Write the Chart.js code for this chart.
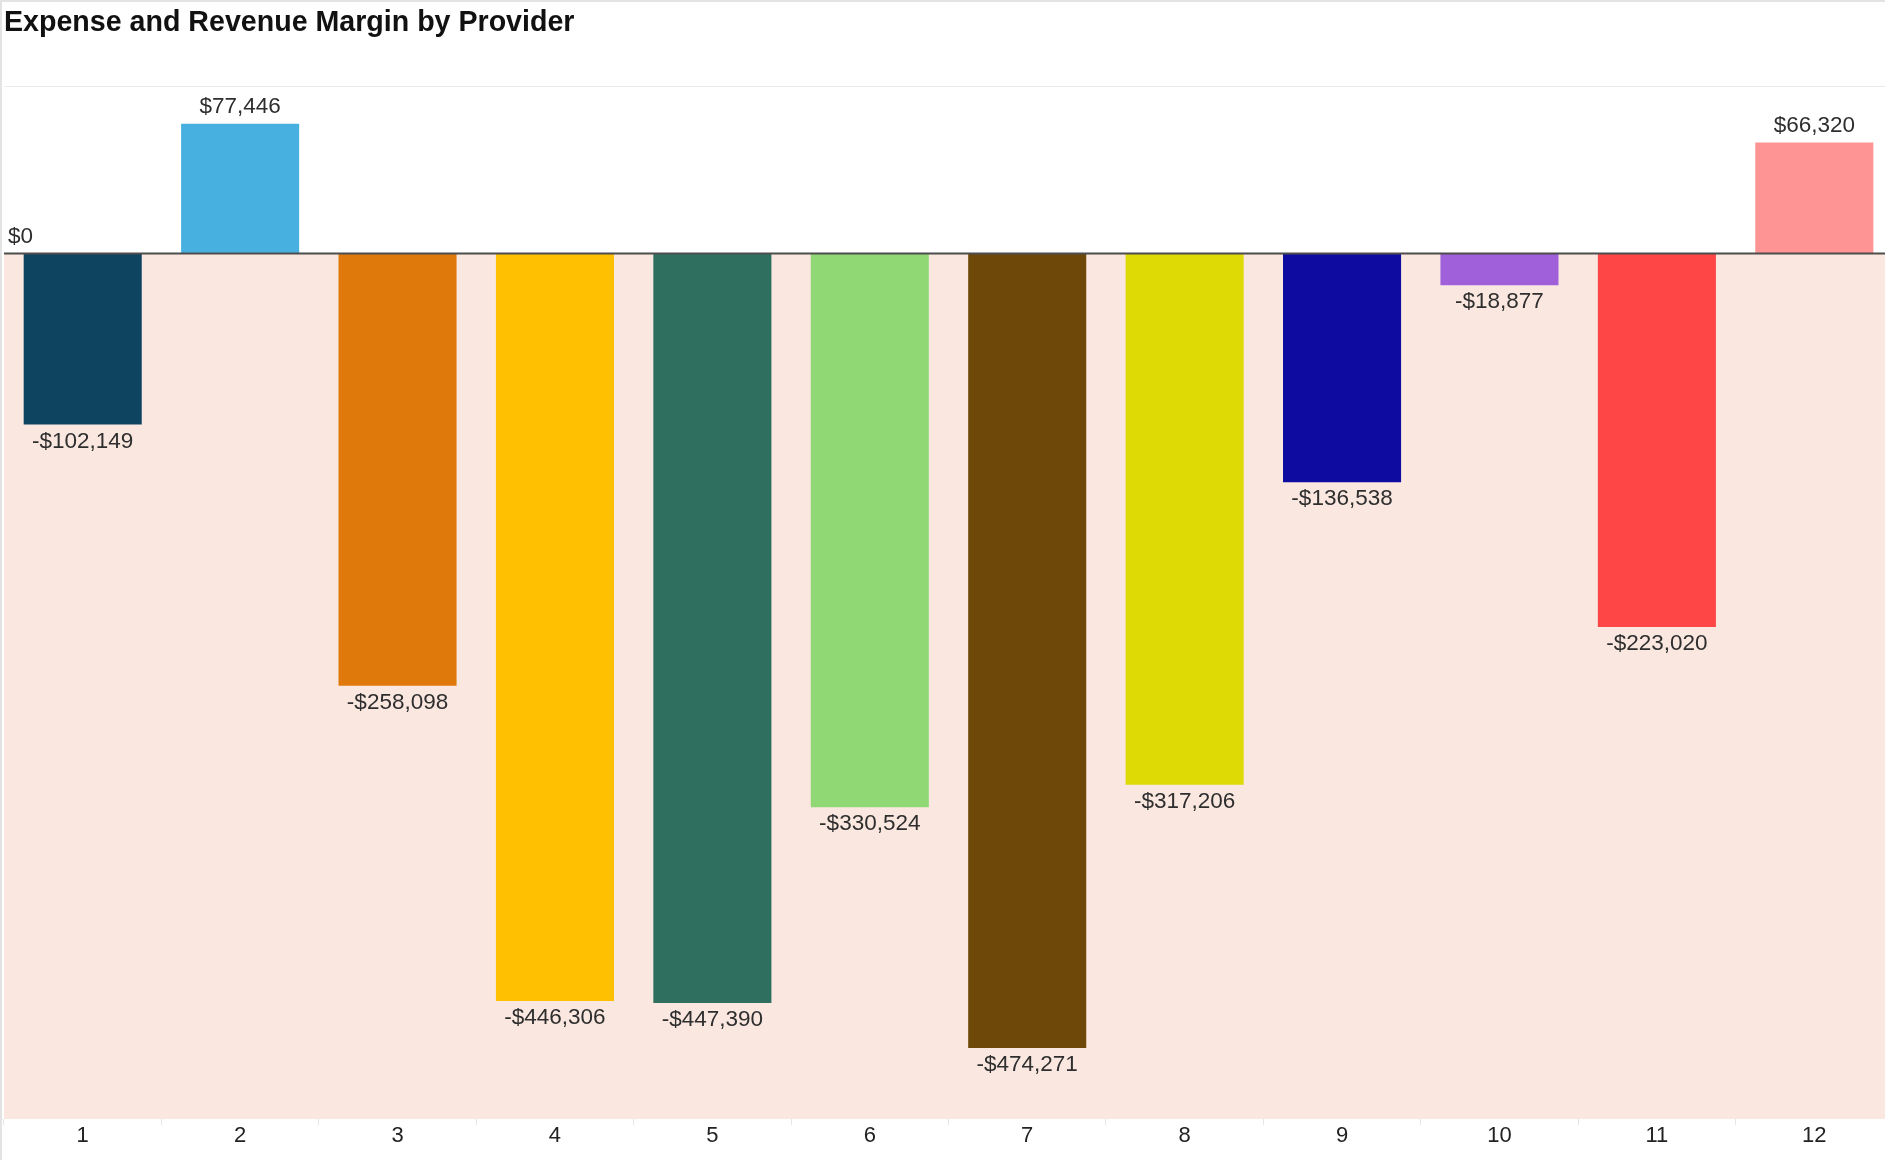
<!DOCTYPE html>
<html>
<head>
<meta charset="utf-8">
<title>Expense and Revenue Margin by Provider</title>
<script src="https://cdn.jsdelivr.net/npm/chart.js@4/dist/chart.umd.min.js"></script>
<style>
  html, body { margin: 0; padding: 0; overflow: hidden; background: #ffffff; }
  #frame {
    width: 1891px; height: 1158px;
    border-top: 2px solid #e3e3e3;
    border-left: 2px solid #e3e3e3;
    background: #ffffff;
  }
  #wrap { position: relative; width: 1891px; height: 1158px; }
</style>
</head>
<body>
<div id="frame"><div id="wrap"><canvas id="chart"></canvas></div></div>
<script>
// Providers along the x axis
const providers = ['1', '2', '3', '4', '5', '6', '7', '8', '9', '10', '11', '12'];

// Margin (revenue minus expense) per provider, in dollars
const margins = [-102149, 77446, -258098, -446306, -447390, -330524, -474271, -317206, -136538, -18877, -223020, 66320];

// One fill colour per provider bar
const barColors = ['#0F4460', '#47B0E0', '#DF790C', '#FEC000', '#2F6F5F', '#8FD874',
                   '#6D4808', '#DEDA05', '#0E0BA0', '#9F60D9', '#FE4646', '#FE9494'];

// Value axis range and gridline spacing
const yMin = -516700;
const yMax = 100000;
const yStep = 50000;

const FONT = '"Liberation Sans", Arial, Helvetica, sans-serif';

function money(v) {
  const s = Math.abs(v).toLocaleString('en-US');
  return (v < 0 ? '-$' : '$') + s;
}

// Shades the loss region (below zero) and draws the zero line, the "$0" marker and bar value labels
const marginDecor = {
  id: 'marginDecor',
  beforeDraw(chart) {
    const { ctx, chartArea } = chart;
    const y0 = chart.scales.y.getPixelForValue(0);
    ctx.save();
    ctx.fillStyle = '#FAE8E0';
    ctx.fillRect(chartArea.left, y0, chartArea.right - chartArea.left, chartArea.bottom - y0);
    ctx.restore();
  },
  afterDatasetsDraw(chart) {
    const { ctx, chartArea } = chart;
    const y0 = chart.scales.y.getPixelForValue(0);
    ctx.save();
    // zero line
    ctx.strokeStyle = '#4d4d4d';
    ctx.lineWidth = 2;
    ctx.beginPath();
    ctx.moveTo(chartArea.left, y0);
    ctx.lineTo(chartArea.right, y0);
    ctx.stroke();

    ctx.font = '22.5px ' + FONT;
    ctx.fillStyle = '#2e2e2e';
    ctx.textBaseline = 'middle';

    // "$0" marker above the zero line
    ctx.textAlign = 'left';
    ctx.fillText(money(0), chartArea.left + 4, y0 - 17);

    // value labels at the end of each bar
    ctx.textAlign = 'center';
    const meta = chart.getDatasetMeta(0);
    meta.data.forEach((bar, i) => {
      const v = chart.data.datasets[0].data[i];
      const y = v >= 0 ? bar.y - 17 : bar.y + 17;
      ctx.fillText(money(v), bar.x, y);
    });
    ctx.restore();
  }
};

new Chart(document.getElementById('chart'), {
  type: 'bar',
  data: {
    labels: providers,
    datasets: [{
      label: 'Margin',
      data: margins,
      backgroundColor: barColors,
      borderWidth: 0,
      categoryPercentage: 0.75,
      barPercentage: 1.0
    }]
  },
  options: {
    responsive: true,
    maintainAspectRatio: false,
    animation: false,
    layout: { padding: { left: 2, right: 0, top: 0, bottom: 0 } },
    plugins: {
      legend: { display: false },
      tooltip: { enabled: false },
      title: {
        display: true,
        text: 'Expense and Revenue Margin by Provider',
        align: 'start',
        color: '#111111',
        font: { family: FONT, size: 28.6, weight: 'bold', lineHeight: 1.2 },
        padding: { top: 4, bottom: 45.7 }
      }
    },
    scales: {
      x: {
        grid: {
          display: true,
          drawOnChartArea: false,
          drawTicks: true,
          tickLength: 6,
          color: '#e6e6e6',
          offset: true
        },
        border: { display: false },
        ticks: {
          color: '#222222',
          font: { family: FONT, size: 22, lineHeight: 1 },
          padding: 0,
          maxRotation: 0,
          autoSkip: false
        },
        afterFit(scale) { scale.height = 41; }
      },
      y: {
        min: yMin,
        max: yMax,
        grid: {
          drawTicks: false,
          color(ctx) {
            const v = ctx.tick && ctx.tick.value;
            return (v % yStep === 0 && v !== 0) ? '#EDE9E7' : 'rgba(0,0,0,0)';
          },
          lineWidth: 1
        },
        border: { display: false },
        ticks: { display: false, stepSize: yStep },
        afterFit(scale) { scale.width = 0; }
      }
    }
  },
  plugins: [marginDecor]
});
</script>
</body>
</html>
